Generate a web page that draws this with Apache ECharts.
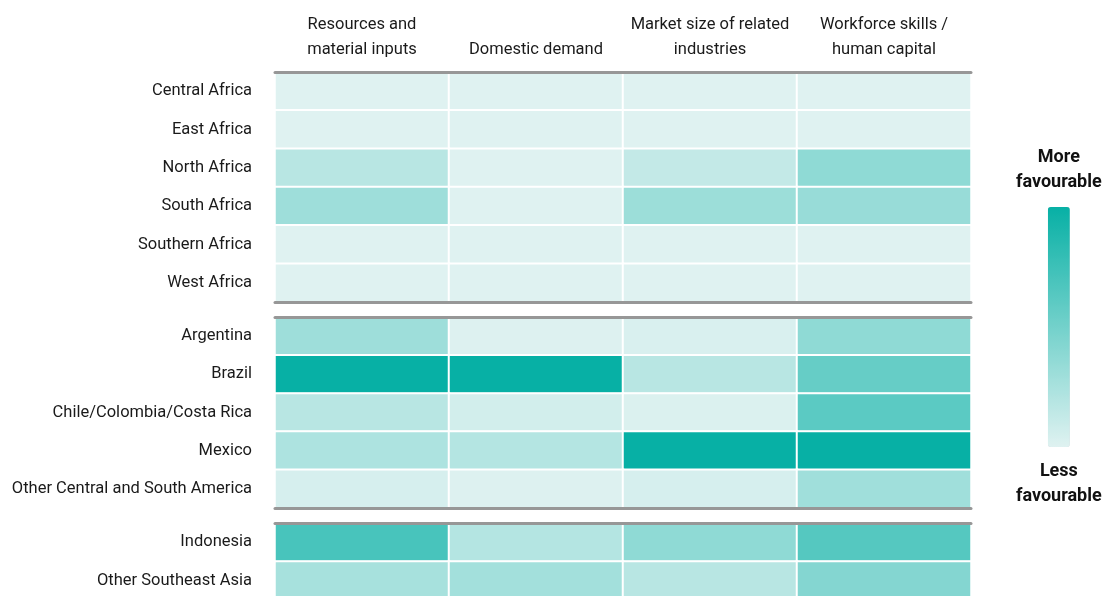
<!DOCTYPE html>
<html>
<head>
<meta charset="utf-8">
<title>Location factors by region</title>
<script src="https://cdn.jsdelivr.net/npm/echarts@6/dist/echarts.min.js"></script>
<style>
  html, body { margin: 0; padding: 0; background: #ffffff; }
  #chart { width: 1106px; height: 596px; }
</style>
</head>
<body>
<div id="chart"></div>
<script>
// Factor columns (header labels)
const factors = [
  'Resources and\nmaterial inputs',
  'Domestic demand',
  'Market size of related\nindustries',
  'Workforce skills /\nhuman capital'
];

// Region groups, top to bottom
const africa = ['Central Africa', 'East Africa', 'North Africa', 'South Africa', 'Southern Africa', 'West Africa'];
const latinAmerica = ['Argentina', 'Brazil', 'Chile/Colombia/Costa Rica', 'Mexico', 'Other Central and South America'];
const southeastAsia = ['Indonesia', 'Other Southeast Asia'];

// Favourability scores (0 = less, 10 = more), one entry per region in the order above
const resources  = [0, 0, 1.8, 3.0, 0, 0,   3.0, 10, 1.8, 2.3, 0.4,   7.0, 2.6];
const domestic   = [0, 0, 0,   0,   0, 0,   0.1, 10, 0.6, 2.0, 0.1,   2.0, 2.8];
const marketSize = [0, 0, 1.3, 3.1, 0, 0,   0.3, 1.8, 0.2, 10, 0.4,   3.7, 1.8];
const workforce  = [0, 0, 3.7, 3.3, 0, 0,   3.7, 5.6, 6.1, 10, 2.9,   6.4, 4.2];

const scoreMin = 0;
const scoreMax = 10;

const columns = [resources, domestic, marketSize, workforce];
const groups = [africa, latinAmerica, southeastAsia];

// Build [x, y, value] triples for each group
function groupData(groupIndex) {
  let offset = 0;
  for (let g = 0; g < groupIndex; g++) offset += groups[g].length;
  const out = [];
  groups[groupIndex].forEach((name, r) => {
    columns.forEach((col, c) => {
      out.push([c, r, col[offset + r]]);
    });
  });
  return out;
}

const lineColor = '#979797';
const textColor = '#1a1a1a';
const fontFamily = 'Roboto, "Noto Sans", sans-serif';

const gridBoxes = [
  { top: 72, height: 230 },
  { top: 317, height: 191 },
  { top: 523, height: 77 }
];

const grids = gridBoxes.map(b => ({
  left: 275, right: 135, top: b.top, height: b.height,
  outerBoundsMode: 'none', containLabel: false
}));

const xAxes = [];
const yAxes = [];
const series = [];

groups.forEach((names, g) => {
  // top rule (first group also carries the column headers)
  xAxes.push({
    type: 'category',
    gridIndex: g,
    position: 'top',
    data: factors,
    z: 10,
    axisLine: { show: true, lineStyle: { color: lineColor, width: 3 } },
    axisTick: { show: false },
    splitLine: { show: false },
    axisLabel: g === 0 ? {
      show: true,
      interval: 0,
      margin: 10,
      color: textColor,
      fontFamily: fontFamily,
      fontSize: 16.5,
      lineHeight: 25,
      align: 'center'
    } : { show: false }
  });
  // bottom rule
  xAxes.push({
    type: 'category',
    gridIndex: g,
    position: 'bottom',
    data: factors,
    z: 10,
    axisLine: { show: g < groups.length - 1, lineStyle: { color: lineColor, width: 3 } },
    axisTick: { show: false },
    splitLine: { show: false },
    axisLabel: { show: false }
  });
  yAxes.push({
    type: 'category',
    gridIndex: g,
    data: names,
    inverse: true,
    axisLine: { show: false },
    axisTick: { show: false },
    splitLine: { show: false },
    axisLabel: {
      margin: 23,
      color: textColor,
      fontFamily: fontFamily,
      fontSize: 16.5
    }
  });
  series.push({
    type: 'heatmap',
    xAxisIndex: g * 2,
    yAxisIndex: g,
    data: groupData(g),
    itemStyle: { borderColor: '#ffffff', borderWidth: 2 },
    emphasis: { disabled: true },
    label: { show: false }
  });
});

const chart = echarts.init(document.getElementById('chart'), null, { renderer: 'canvas' });
chart.setOption({
  animation: false,
  backgroundColor: '#ffffff',
  tooltip: { show: false },
  grid: grids,
  xAxis: xAxes,
  yAxis: yAxes,
  visualMap: {
    type: 'continuous',
    min: scoreMin,
    max: scoreMax,
    orient: 'vertical',
    left: 1001,
    top: 130,
    itemWidth: 22,
    itemHeight: 240,
    calculable: false,
    hoverLink: false,
    seriesIndex: [0, 1, 2],
    text: ['More\nfavourable', 'Less\nfavourable'],
    textGap: 12,
    textStyle: {
      color: '#111111',
      fontFamily: fontFamily,
      fontSize: 18,
      fontWeight: 'bold',
      lineHeight: 25
    },
    inRange: { color: ['#dff2f1', '#07b0a5'] }
  },
  series: series
});
</script>
</body>
</html>
